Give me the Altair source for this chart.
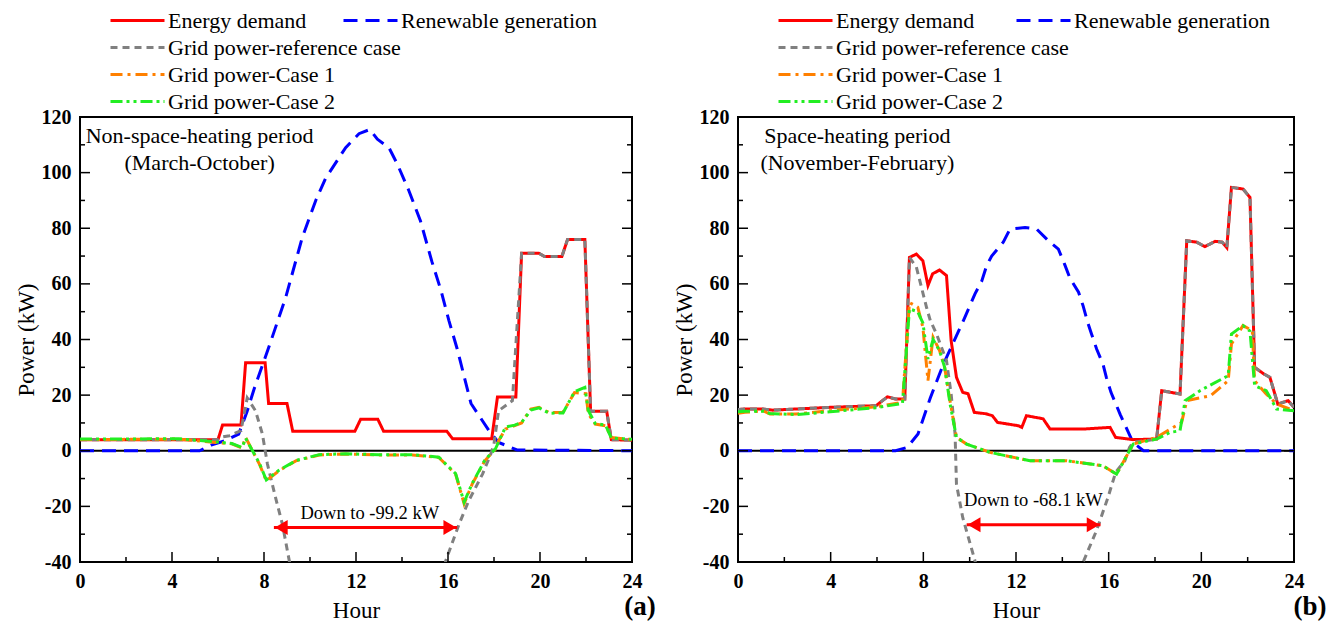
import altair as alt
import pandas as pd

FONT = "Liberation Serif"

# ---------------- Panel (a): non-space-heating period ----------------
a_dem_t = [0, 6.0, 6.2, 7.0, 7.2, 8.05, 8.2, 9.0, 9.25, 11.95, 12.2, 12.95, 13.2, 15.95, 16.2,
           17.9, 18.15, 18.95, 19.2, 19.95, 20.2, 20.95, 21.2, 21.95, 22.2, 22.9, 23.1, 24]
a_dem_v = [4, 4, 9.3, 9.3, 31.6, 31.6, 17, 17, 7, 7, 11.3, 11.3, 7, 7, 4.3,
           4.3, 19.3, 19.3, 71, 71, 69.8, 69.8, 76, 76, 14.2, 14.2, 4, 3.8]

a_ren_t = [0, 5.2, 5.7, 6.3, 6.9, 7.26, 7.6, 8.2, 8.94, 9.66, 10.25, 10.68, 11.55, 12.13, 12.6,
           12.93, 13.43, 13.8, 14.3, 14.8, 15.3, 15.7, 16.04, 16.4, 17.0, 17.8, 18.2, 19.0, 24]
a_ren_v = [0, 0, 2, 3.6, 6, 14, 23, 37, 55, 76.6, 90, 98, 109, 114, 115.5,
           112, 109, 103, 93.5, 82.7, 68, 57.5, 46.8, 36.6, 17, 7, 3, 0.3, 0]

a_ref_t = [0, 6.0, 6.2, 6.5, 7.0, 7.27, 7.63, 7.93, 8.15, 8.5, 8.8, 9.1, 9.5, 10.5, 12.5, 14.5,
           15.5, 15.9, 16.48, 16.9, 17.5, 17.86, 18.0, 18.2, 18.8, 19.2, 19.95, 20.2, 20.95,
           21.2, 21.95, 22.2, 22.9, 23.1, 24]
a_ref_v = [4, 4, 5, 5.4, 7.2, 19, 14.4, 6, -4.8, -16.8, -26.4, -39.6, -58, -86, -99.2, -85,
           -60, -39.6, -26.4, -18, -8.4, -1.2, 2.5, 14.4, 18, 71, 71, 69.8, 69.8,
           76, 76, 14.2, 14.2, 4, 3.8]

a_c1_t = [0, 4.3, 5.9, 6.6, 7.05, 7.2, 7.8, 8.1, 8.65, 9.4, 10.4, 11.55, 13.0, 14.45, 15.6,
          16.33, 16.7, 17.05, 17.6, 18.07, 18.2, 18.5, 18.9, 19.2, 19.6, 19.96, 20.4, 21.0,
          21.5, 22.0, 22.1, 22.4, 22.85, 23.1, 24]
a_c1_v = [4, 4.2, 3, 2.5, 1, 4.8, -4.8, -10.8, -7.2, -3.6, -1.5, -1.2, -1.5, -1.5, -2.4,
          -8.4, -19, -12, -3.6, 0.6, 3.6, 7.8, 9, 10, 15, 15.6, 13.7, 13.8,
          20.9, 20.5, 13.3, 9.6, 9, 4.8, 4]

a_c2_t = [0, 4.3, 5.9, 6.6, 7.05, 7.2, 7.8, 8.1, 8.65, 9.4, 10.4, 11.55, 13.0, 14.45, 15.6,
          16.33, 16.7, 17.05, 17.6, 18.07, 18.2, 18.5, 18.9, 19.2, 19.6, 19.96, 20.4, 21.0,
          21.5, 21.95, 22.1, 22.4, 22.85, 23.1, 24]
a_c2_v = [4.2, 4.3, 3.2, 2.6, 1.2, 4.5, -4.5, -10.5, -7, -3.5, -1.4, -1.1, -1.4, -1.4, -2.3,
          -8.2, -18.5, -11.8, -3.4, 0.8, 3.2, 8.5, 9.2, 10.2, 14.6, 15.4, 13.5, 13.6,
          21.2, 22.8, 14.5, 9.8, 9.2, 4.6, 4.1]

# ---------------- Panel (b): space-heating period ----------------
b_dem_t = [0, 0.3, 1.07, 1.5, 3.97, 5.96, 6.45, 6.8, 7.2, 7.4, 7.7, 7.98, 8.2, 8.4, 8.7, 9.0,
           9.2, 9.43, 9.7, 9.93, 10.2, 10.7, 10.98, 11.2, 12.1, 12.25, 12.45, 13.17, 13.47,
           14.9, 16.06, 16.3, 17.05, 18.07, 18.29, 19.08, 19.37, 19.8, 20.15, 20.6, 20.9,
           21.1, 21.3, 21.8, 22.1, 22.3, 22.7, 22.96, 23.3, 23.75, 24]
b_dem_v = [14.8, 15, 15, 14.6, 15.6, 16.2, 19.4, 18.6, 18.6, 69.5, 70.7, 68.3, 59.4, 63.6, 65, 63,
           39.6, 26.4, 21, 20.5, 13.8, 13.3, 12.6, 10.2, 9, 8.4, 12.6, 11.5, 7.8,
           7.8, 8.4, 4.8, 4.0, 4.2, 21.6, 20.4, 75.5, 75, 73.4, 75.3, 75,
           73, 94.7, 94.1, 91.1, 30, 27.6, 26.4, 16.8, 18, 15.6]

b_ren_t = [0, 6.8, 7.3, 7.77, 8.3, 8.86, 9.73, 10.23, 10.52, 10.73, 10.95, 11.45, 11.74, 12.39,
           12.89, 13.4, 13.83, 14.1, 14.33, 14.7, 14.9, 15.1, 15.26, 15.48, 15.76, 15.9, 16.1,
           16.5, 17.05, 17.5, 24]
b_ren_v = [0, 0, 1.2, 6, 19, 31, 46.8, 56.4, 61, 66.5, 70, 75, 79.7, 80.3,
           79.7, 75.5, 72.5, 67, 62, 57, 52, 46, 42, 36.6, 31, 26.4, 21,
           13, 3, 0, 0]

b_ref_t = [0, 0.3, 1.07, 1.5, 3.97, 5.96, 6.45, 6.8, 7.2, 7.4, 7.7, 8.14, 8.3, 8.57, 9.0, 9.2,
           9.37, 9.43, 9.7, 10.23, 11.0, 12.4, 14.0, 14.9, 15.47, 15.97, 16.3, 16.7, 16.9,
           17.05, 18.07, 18.29, 19.08, 19.37, 19.8, 20.15, 20.6, 20.9, 21.1, 21.3, 21.8,
           22.1, 22.3, 22.7, 22.96, 23.3, 23.75, 24]
b_ref_v = [14.8, 15, 15, 14.6, 15.6, 16.2, 19.4, 18.6, 18.6, 69.5, 66, 51.5, 46.8, 42, 32.4, 20.4,
           6, -12, -24, -39.6, -60, -68.1, -60, -40, -28.8, -16.8, -7.8, -3.6, 1.2,
           3, 4.2, 21.6, 20.4, 75.5, 75, 73.4, 75.3, 75, 73, 94.7, 94.1,
           91.1, 30, 27.6, 26.4, 16.8, 18, 15.6]

b_c1_t = [0, 0.3, 1.07, 1.38, 2.5, 3.97, 5.96, 7.1, 7.4, 7.76, 7.98, 8.2, 8.42, 8.7, 8.92, 9.15,
          9.43, 9.87, 10.88, 12.6, 14.2, 15.75, 16.34, 17.06, 18.07, 19.15, 19.37, 20.4, 21.16,
          21.3, 21.8, 22.2, 22.3, 22.8, 23.25, 24]
b_c1_v = [13.5, 13.8, 14.4, 13.2, 13.2, 14.4, 15.8, 17.4, 53.3, 51.6, 44.4, 25.2, 40.8, 36, 30, 18,
          4.8, 2.4, -0.6, -3.6, -3.6, -5.4, -8.4, 2.4, 4.8, 10.2, 18, 19.8, 25.2,
          38.4, 45, 43.2, 25.2, 20.4, 16.8, 14.4]

b_c2_t = [0, 0.3, 1.07, 1.38, 2.5, 3.97, 5.96, 7.1, 7.4, 7.76, 7.98, 8.2, 8.42, 8.7, 8.92, 9.15,
          9.43, 9.87, 10.88, 12.6, 14.2, 15.75, 16.34, 17.06, 18.07, 18.65, 19.08, 19.3, 19.94,
          21.16, 21.3, 21.8, 22.1, 22.3, 22.8, 23.25, 24]
b_c2_v = [14, 14.2, 14.2, 13.4, 13, 14, 15.5, 17, 51, 50, 46, 33, 40, 36, 30, 17,
          4.8, 2.4, -0.6, -3.6, -3.6, -5.4, -8.4, 2.4, 4.2, 6.6, 7.2, 18, 21.6,
          27, 42, 45, 43, 23.4, 21.6, 15, 14.4]

# ---------------- Series, styles, annotations ----------------
MAIN = ["Energy demand", "Grid power-reference case", "Grid power-Case 1", "Grid power-Case 2"]
MAIN_COLORS = ["#ff0000", "#808080", "#ff8000", "#22ee22"]
MAIN_DASH = [[1, 0], [7, 5], [12, 5, 3, 5], [12, 4, 3, 4, 3, 4]]
REN = ["Renewable generation"]
REN_COLORS = ["#0000ff"]
REN_DASH = [[14, 8]]

x_major = [0, 4, 8, 12, 16, 20, 24]
x_minor = [2, 6, 10, 14, 18, 22]
y_major = [-40, -20, 0, 20, 40, 60, 80, 100, 120]
y_minor = [-30, -10, 10, 30, 50, 70, 90, 110]

a_note_hour = [5.2, 5.2]
a_note_kw = [113.3, 103.6]
a_note_text = ["Non-space-heating period", "(March-October)"]
b_note_hour = [5.15, 5.15]
b_note_kw = [113.3, 103.6]
b_note_text = ["Space-heating period", "(November-February)"]

a_arrow = {"from": 8.43, "to": 16.4, "kw": -27.6, "label": "Down to -99.2 kW", "label_hour": 12.6, "label_kw": -22.3}
b_arrow = {"from": 9.87, "to": 15.65, "kw": -26.6, "label": "Down to -68.1 kW", "label_hour": 12.75, "label_kw": -17.6}

H = 445
PATH = "M-5.4,0L5.4,0"


def long_df(parts):
    rows = []
    for name, ts, vs in parts:
        for t, v in zip(ts, vs):
            rows.append({"hour": t, "kw": v, "series": name})
    return pd.DataFrame(rows)


def legend(lx, ly):
    return alt.Legend(orient="none", legendX=lx, legendY=ly, title=None, direction="vertical",
                      symbolType=PATH, symbolSize=100, symbolStrokeWidth=3,
                      labelFont=FONT, labelFontSize=22, labelColor="black",
                      labelOffset=19.5, rowPadding=5, padding=0, labelLimit=400)


def panel(W, main_df, ren_df, note_h, note_k, note_t, arrow, tag, tag_dx, leg1x, leg2x, legy):
    xenc = alt.X("hour:Q", scale=alt.Scale(domain=[0, 24], nice=False, zero=False),
                 axis=alt.Axis(values=x_major, title="Hour", labelExpr="'' + datum.value",
                               labelFlush=False))
    yenc = alt.Y("kw:Q", scale=alt.Scale(domain=[-40, 120], nice=False, zero=False),
                 axis=alt.Axis(values=y_major, title="Power (kW)", labelExpr="'' + datum.value",
                               labelFlush=False))

    zero = alt.Chart(pd.DataFrame({"kw": [0]})).mark_rule(color="black", strokeWidth=2).encode(y=yenc)

    ren = alt.Chart(ren_df).mark_line(strokeWidth=3, clip=True).encode(
        x=xenc, y=yenc,
        color=alt.Color("series:N", scale=alt.Scale(domain=REN, range=REN_COLORS), legend=legend(leg2x, legy)),
        strokeDash=alt.StrokeDash("series:N", scale=alt.Scale(domain=REN, range=REN_DASH), legend=legend(leg2x, legy)),
    )
    main = alt.Chart(main_df).mark_line(strokeWidth=3, clip=True).encode(
        x=xenc, y=yenc,
        color=alt.Color("series:N", scale=alt.Scale(domain=MAIN, range=MAIN_COLORS), legend=legend(leg1x, legy)),
        strokeDash=alt.StrokeDash("series:N", scale=alt.Scale(domain=MAIN, range=MAIN_DASH), legend=legend(leg1x, legy)),
    )

    xt_major = alt.Chart(pd.DataFrame({"hour": x_major})).mark_rule(color="black", strokeWidth=1.5).encode(
        x="hour:Q", y=alt.value(H), y2=alt.value(H - 10))
    xt_minor = alt.Chart(pd.DataFrame({"hour": x_minor})).mark_rule(color="black", strokeWidth=1.5).encode(
        x="hour:Q", y=alt.value(H), y2=alt.value(H - 5))
    yl_major = alt.Chart(pd.DataFrame({"kw": y_major})).mark_rule(color="black", strokeWidth=1.5).encode(
        y="kw:Q", x=alt.value(0), x2=alt.value(10))
    yl_minor = alt.Chart(pd.DataFrame({"kw": y_minor})).mark_rule(color="black", strokeWidth=1.5).encode(
        y="kw:Q", x=alt.value(0), x2=alt.value(5))
    yr_major = alt.Chart(pd.DataFrame({"kw": y_major})).mark_rule(color="black", strokeWidth=1.5).encode(
        y="kw:Q", x=alt.value(W), x2=alt.value(W - 10))
    yr_minor = alt.Chart(pd.DataFrame({"kw": y_minor})).mark_rule(color="black", strokeWidth=1.5).encode(
        y="kw:Q", x=alt.value(W), x2=alt.value(W - 5))

    notes = alt.Chart(pd.DataFrame({"hour": note_h, "kw": note_k, "text": note_t})).mark_text(
        font=FONT, fontSize=22, color="black", align="center", baseline="middle").encode(
        x="hour:Q", y="kw:Q", text="text:N")

    arr = alt.Chart(pd.DataFrame({"hour": [arrow["from"]], "hour2": [arrow["to"]], "kw": [arrow["kw"]]})).mark_rule(
        color="#ff0000", strokeWidth=3).encode(x="hour:Q", x2="hour2:Q", y="kw:Q")
    heads = alt.Chart(pd.DataFrame({"hour": [arrow["from"] + 0.32, arrow["to"] - 0.32],
                                    "kw": [arrow["kw"], arrow["kw"]],
                                    "shape": ["triangle-left", "triangle-right"]})).mark_point(
        filled=True, color="#ff0000", size=220, opacity=1, strokeWidth=0).encode(
        x="hour:Q", y="kw:Q", shape=alt.Shape("shape:N", scale=None))
    arr_text = alt.Chart(pd.DataFrame({"hour": [arrow["label_hour"]], "kw": [arrow["label_kw"]],
                                       "text": [arrow["label"]]})).mark_text(
        font=FONT, fontSize=18.5, color="black", align="center", baseline="middle").encode(
        x="hour:Q", y="kw:Q", text="text:N")

    tag_t = alt.Chart(pd.DataFrame({"hour": [24], "kw": [-40], "text": [tag]})).mark_text(
        font=FONT, fontSize=27, fontWeight="bold", color="black", align="center", baseline="middle",
        dx=tag_dx, dy=45).encode(x="hour:Q", y="kw:Q", text="text:N")

    return alt.layer(zero, ren, main, xt_major, xt_minor, yl_major, yl_minor, yr_major, yr_minor,
                     notes, arr, heads, arr_text, tag_t).resolve_scale(
        color="independent", strokeDash="independent").properties(width=W, height=H)


a_main = long_df([(MAIN[0], a_dem_t, a_dem_v), (MAIN[1], a_ref_t, a_ref_v),
                  (MAIN[2], a_c1_t, a_c1_v), (MAIN[3], a_c2_t, a_c2_v)])
a_ren = long_df([(REN[0], a_ren_t, a_ren_v)])
b_main = long_df([(MAIN[0], b_dem_t, b_dem_v), (MAIN[1], b_ref_t, b_ref_v),
                  (MAIN[2], b_c1_t, b_c1_v), (MAIN[3], b_c2_t, b_c2_v)])
b_ren = long_df([(REN[0], b_ren_t, b_ren_v)])

pa = panel(552, a_main, a_ren, a_note_hour, a_note_kw, a_note_text, a_arrow, "(a)", 8, 46.5, 279.5, -107.5)
pb = panel(556, b_main, b_ren, b_note_hour, b_note_kw, b_note_text, b_arrow, "(b)", 16, 56.5, 294.5, -107.5)

chart = alt.hconcat(pa, pb, spacing=15).resolve_scale(
    color="independent", strokeDash="independent").configure_view(
    stroke="black", strokeWidth=2).configure_axis(
    labelFont=FONT, labelFontSize=20, labelFontWeight="bold", labelColor="black",
    titleFont=FONT, titleFontSize=23, titleFontWeight="normal", titleColor="black",
    ticks=False, domain=False, grid=False, labelPadding=9).configure_axisX(
    titlePadding=8).configure_axisY(titlePadding=3).properties(
    padding={"left": 6, "top": 0, "right": 0, "bottom": 0})

chart.save("out.html", embed_options={"renderer": "svg", "actions": False})
